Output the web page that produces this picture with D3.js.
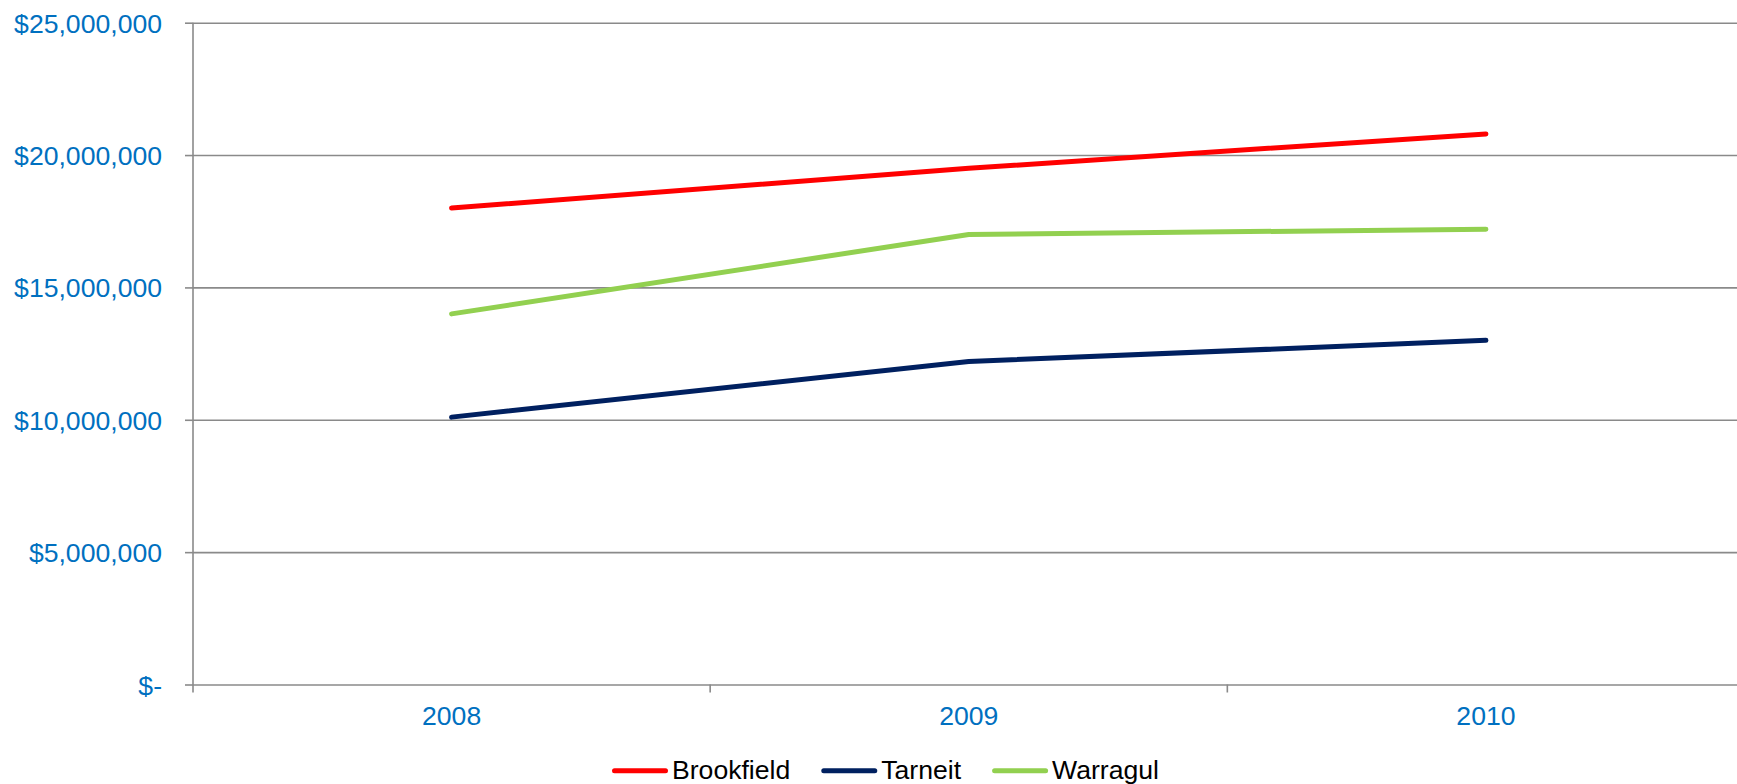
<!DOCTYPE html>
<html>
<head>
<meta charset="utf-8">
<script src="https://cdn.jsdelivr.net/npm/d3@7"></script>
<style>
  body { margin: 0; background: #fff; }
  svg { display: block; font-family: "Liberation Sans", Arial, sans-serif; }
</style>
</head>
<body>
<script>
// data
var years = ["2008", "2009", "2010"];
var brookfield = [18000000, 19500000, 20800000];
var tarneit = [10100000, 12200000, 13000000];
var warragul = [14000000, 17000000, 17200000];
var yTicks = [0, 5000000, 10000000, 15000000, 20000000, 25000000];
var seriesNames = ["Brookfield", "Tarneit", "Warragul"];
var seriesColors = ["#ff0000", "#002060", "#92d050"];

var W = 1737, H = 784;
// note: "top" is taken by window.top, so plot edges get their own names
var plotLeft = 193, plotRight = 1744.5, plotTop = 22.7, plotBottom = 684.5;
var fontSize = 26.6;

var svg = d3.select("body").append("svg")
  .attr("width", W)
  .attr("height", H);

var x = d3.scaleBand().domain(years).range([plotLeft, plotRight]).padding(0);
var y = d3.scaleLinear().domain([0, 25000000]).range([plotBottom, plotTop]);

var fmt = d3.format("$,");

// gridlines
svg.append("g")
  .attr("transform", "translate(" + plotLeft + ",0)")
  .call(d3.axisLeft(y).tickValues(yTicks).tickSize(-(W - plotLeft + 10)).tickFormat(""))
  .call(function (g) {
    g.select(".domain").remove();
    g.selectAll("line").attr("stroke", "#8a8a8a").attr("stroke-width", 1.6);
  });

// y axis with labels
svg.append("g")
  .attr("transform", "translate(" + plotLeft + ",0)")
  .call(d3.axisLeft(y).tickValues(yTicks).tickSize(8).tickPadding(23)
    .tickFormat(function (d) { return d === 0 ? "$-" : fmt(d); }))
  .call(function (g) {
    g.select(".domain").remove();
    g.selectAll("line").attr("stroke", "#8a8a8a").attr("stroke-width", 1.6);
    g.selectAll("text")
      .attr("fill", "#0070c0")
      .attr("font-size", fontSize)
      .attr("font-family", "Liberation Sans, Arial, sans-serif")
      .attr("dy", "0.36em");
  });

// vertical axis line
svg.append("line")
  .attr("x1", plotLeft).attr("x2", plotLeft)
  .attr("y1", plotTop).attr("y2", plotBottom + 8)
  .attr("stroke", "#8a8a8a").attr("stroke-width", 1.6);

// x axis labels
svg.append("g")
  .attr("transform", "translate(0," + plotBottom + ")")
  .call(d3.axisBottom(x).tickSize(0).tickPadding(22))
  .call(function (g) {
    g.select(".domain").remove();
    g.selectAll("text")
      .attr("fill", "#0070c0")
      .attr("font-size", fontSize)
      .attr("font-family", "Liberation Sans, Arial, sans-serif");
  });

// category boundary ticks
svg.append("g").selectAll("line")
  .data(years.slice(1))
  .enter().append("line")
  .attr("x1", function (d) { return x(d); })
  .attr("x2", function (d) { return x(d); })
  .attr("y1", plotBottom)
  .attr("y2", plotBottom + 8)
  .attr("stroke", "#8a8a8a").attr("stroke-width", 1.6);

// lines
var allSeries = [brookfield, tarneit, warragul];
var line = d3.line()
  .x(function (d, i) { return x(years[i]) + x.bandwidth() / 2; })
  .y(function (d) { return y(d); });

svg.append("g").selectAll("path")
  .data(allSeries)
  .enter().append("path")
  .attr("d", line)
  .attr("fill", "none")
  .attr("stroke", function (d, i) { return seriesColors[i]; })
  .attr("stroke-width", 5)
  .attr("stroke-linecap", "round")
  .attr("stroke-linejoin", "round");

// legend
var lg = svg.append("g").attr("transform", "translate(612,770.7)");
var lx = 0;
seriesNames.forEach(function (name, i) {
  var item = lg.append("g").attr("transform", "translate(" + lx + ",0)");
  item.append("line")
    .attr("x1", 2.5).attr("x2", 53.5)
    .attr("y1", 0).attr("y2", 0)
    .attr("stroke", seriesColors[i])
    .attr("stroke-width", 5)
    .attr("stroke-linecap", "round");
  var t = item.append("text")
    .attr("x", 60)
    .attr("y", 8.3)
    .attr("font-size", fontSize)
    .attr("fill", "#000")
    .text(name);
  lx += 60 + t.node().getComputedTextLength() + 31;
});
</script>
</body>
</html>
